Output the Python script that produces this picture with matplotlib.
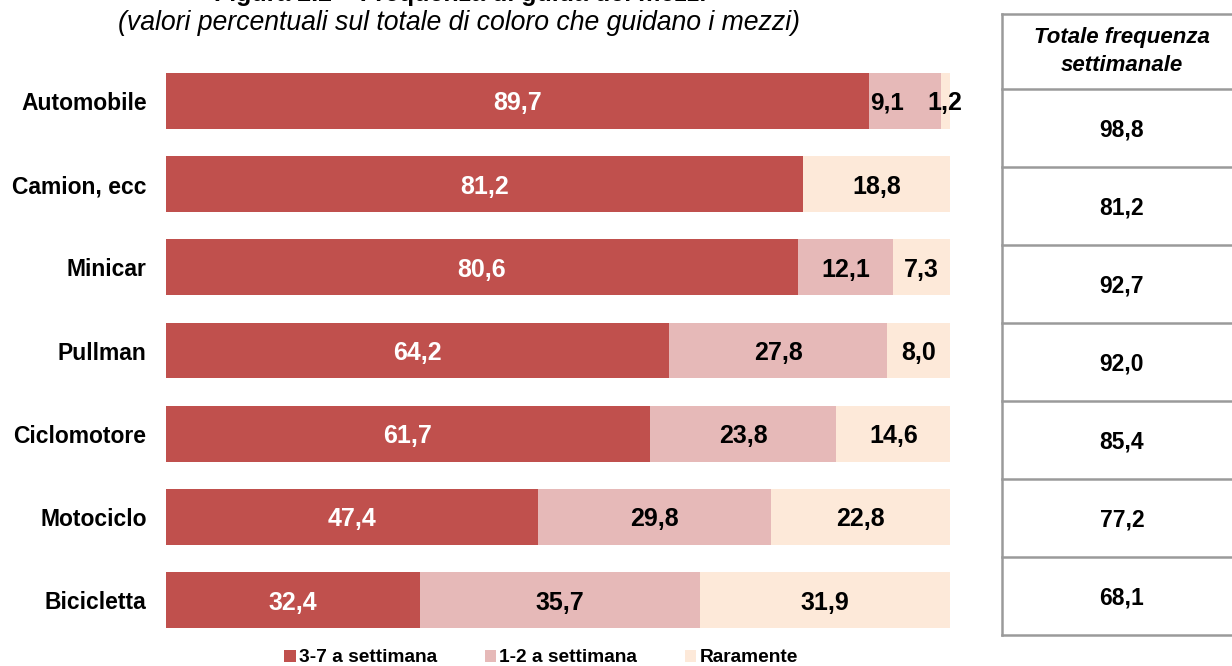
import numpy as np
import matplotlib.pyplot as plt
from matplotlib.patches import Patch

plt.rcParams['font.family'] = ['Liberation Sans', 'DejaVu Sans']

mezzi = ['Automobile', 'Camion, ecc', 'Minicar', 'Pullman', 'Ciclomotore', 'Motociclo', 'Bicicletta']
freq_3_7 = [89.7, 81.2, 80.6, 64.2, 61.7, 47.4, 32.4]
freq_1_2 = [9.1, 0.0, 12.1, 27.8, 23.8, 29.8, 35.7]
raramente = [1.2, 18.8, 7.3, 8.0, 14.6, 22.8, 31.9]
totale_sett = [98.8, 81.2, 92.7, 92.0, 85.4, 77.2, 68.1]

serie = ['3-7 a settimana', '1-2 a settimana', 'Raramente']
colori = ['#C0504D', '#E6B9B8', '#FDE9D9']
col_testo = ['white', 'black', 'black']

W, H = 1232, 666
fig = plt.figure(figsize=(W / 100, H / 100), dpi=100)

# main bar axes
ax = fig.add_axes([166 / W, 1 - 650 / H, (950 - 166) / W, (650 - 51) / H])
y = np.arange(len(mezzi))
left = np.zeros(len(mezzi))
for vals, c, tc in zip([freq_3_7, freq_1_2, raramente], colori, col_testo):
    vals = np.array(vals)
    ax.barh(y, vals, left=left, height=0.67, color=c, edgecolor='none')
    for yi, l, v in zip(y, left, vals):
        if v <= 0:
            continue
        lab = f'{v:.1f}'.replace('.', ',')
        if v < 10 and l + v < 99:
            # narrow segment followed by a tiny one: label starts at segment edge
            ax.text(l + 0.1, yi + 0.03, lab, ha='left', va='center',
                    fontsize=17.5, fontweight='bold', color=tc)
        else:
            ax.text(l + v / 2, yi + 0.03, lab, ha='center', va='center',
                    fontsize=18, fontweight='bold', color=tc)
    left += vals

ax.set_xlim(0, 100)
ax.set_ylim(len(mezzi) - 0.4, -0.6)
ax.set_yticks(y)
ax.set_yticklabels(mezzi, fontsize=16.5, fontweight='bold')
ax.tick_params(axis='y', length=0, pad=14)
ax.set_xticks([])
for s in ax.spines.values():
    s.set_visible(False)

# titles
fig.text(460 / W, 1 - (-6) / H, 'Figura 2.2 – Frequenza di guida dei mezzi', ha='center', va='center',
         fontsize=18, fontweight='bold')
fig.text(459 / W, 1 - 23 / H, '(valori percentuali sul totale di coloro che guidano i mezzi)',
         ha='center', va='center', fontsize=19.2, style='italic')

# legend
handles = [Patch(facecolor=c, edgecolor='none') for c in colori]
fig.legend(handles, serie, loc='center', bbox_to_anchor=(541 / W, 1 - 658 / H), ncol=3,
           frameon=False, prop={'weight': 'bold', 'size': 13.8}, handlelength=0.6,
           handleheight=0.6, handletextpad=0.15, columnspacing=2.5)

# right table
tx0, tx1 = 1002, 1242
ty0, ty_head, row_h = 14, 89, 78
tab = fig.add_axes([0, 0, 1, 1])
tab.set_xlim(0, W)
tab.set_ylim(H, 0)
tab.axis('off')
n = len(totale_sett)
ty1 = ty_head + n * row_h
lc = '#9A9A9A'
tab.plot([tx0, tx0], [ty0, ty1], color=lc, lw=1.8)
tab.plot([tx1, tx1], [ty0, ty1], color=lc, lw=1.8)
for yy in [ty0, ty_head] + [ty_head + (i + 1) * row_h for i in range(n)]:
    tab.plot([tx0, tx1], [yy, yy], color=lc, lw=1.8)
tab.text((tx0 + tx1) / 2, (ty0 + ty_head) / 2, 'Totale frequenza\nsettimanale', ha='center',
         va='center', fontsize=16, fontweight='bold', style='italic', linespacing=1.45)
for i, v in enumerate(totale_sett):
    tab.text((tx0 + tx1) / 2, ty_head + (i + 0.5) * row_h + 1.5, f'{v:.1f}'.replace('.', ','),
             ha='center', va='center', fontsize=16.5, fontweight='bold')

fig.savefig('out.png', dpi=100)
